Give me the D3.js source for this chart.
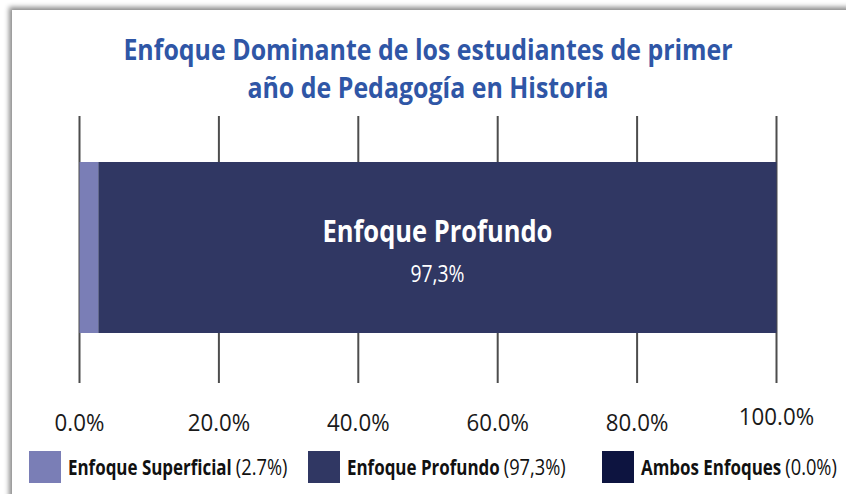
<!DOCTYPE html>
<html>
<head>
<meta charset="utf-8">
<script src="https://cdn.jsdelivr.net/npm/d3@7"></script>
<style>
  body { margin: 0; background: #fff; }
  svg { display: block; }
  text { font-family: "Open Sans", "Roboto", sans-serif; }
</style>
</head>
<body>
<div id="chart"></div>
<script>
var categories = ["Enfoque Superficial", "Enfoque Profundo", "Ambos Enfoques"];
var values = [2.7, 97.3, 0.0];
var valueLabels = ["(2.7%)", "(97,3%)", "(0.0%)"];
var colors = ["#7a7eb6", "#303763", "#0d1440"];
var tickValues = [0, 20, 40, 60, 80, 100];
var tickLabels = ["0.0%", "20.0%", "40.0%", "60.0%", "80.0%", "100.0%"];
var titleLines = ["Enfoque Dominante de los estudiantes de primer", "año de Pedagogía en Historia"];

var width = 846, height = 494;

// the reference uses a condensed face; squeeze glyphs horizontally
function squeeze(sel, k) {
  sel.each(function() {
    var t = d3.select(this);
    var px = +t.attr("x") || 0, py = +t.attr("y") || 0;
    this.__w = this.getComputedTextLength() * k;
    t.attr("x", 0).attr("y", 0)
     .attr("transform", "translate(" + px + "," + py + ") scale(" + k + ",1)");
  });
}

var svg = d3.select("#chart").append("svg")
    .attr("width", width)
    .attr("height", height);

// card with shadow on top/left
var defs = svg.append("defs");
var f = defs.append("filter").attr("id", "shadow")
    .attr("x", "-5%").attr("y", "-10%").attr("width", "110%").attr("height", "120%");
f.append("feDropShadow")
    .attr("dx", -3).attr("dy", -3)
    .attr("stdDeviation", 2.5)
    .attr("flood-color", "#000")
    .attr("flood-opacity", 0.45);

svg.append("rect")
    .attr("x", 12).attr("y", 10)
    .attr("width", 900).attr("height", 600)
    .attr("fill", "#fff")
    .attr("filter", "url(#shadow)");

// title
var title = svg.append("g")
  .selectAll("text")
  .data(titleLines)
  .enter().append("text")
    .attr("x", 428)
    .attr("y", function(d, i) { return 60 + i * 38; })
    .attr("text-anchor", "middle")
    .attr("fill", "#2f56a6")
    .style("font-weight", "bold")
    .style("font-size", "29px")
    .text(function(d) { return d; });
squeeze(title, 0.86);

var x = d3.scaleLinear()
    .domain([0, 100])
    .range([79.5, 776.5]);

// grid lines
svg.append("g")
  .selectAll("line")
  .data(tickValues)
  .enter().append("line")
    .attr("x1", function(d) { return x(d); })
    .attr("x2", function(d) { return x(d); })
    .attr("y1", 116)
    .attr("y2", 383)
    .attr("stroke", "#4d4d4d")
    .attr("stroke-width", 2);

// stacked bar
var stackData = [{}];
categories.forEach(function(c, i) { stackData[0][c] = values[i]; });
var series = d3.stack().keys(categories)(stackData);

svg.append("g")
  .selectAll("rect")
  .data(series)
  .enter().append("rect")
    .attr("x", function(d) { return x(d[0][0]); })
    .attr("width", function(d) { return x(d[0][1]) - x(d[0][0]); })
    .attr("y", 162)
    .attr("height", 171)
    .attr("fill", function(d, i) { return colors[i]; });

// label inside the dominant segment
var big = series[1];
var cx = (x(big[0][0]) + x(big[0][1])) / 2;
var bigName = svg.append("text")
    .attr("x", cx).attr("y", 242)
    .attr("text-anchor", "middle")
    .attr("fill", "#fff")
    .style("font-weight", "bold")
    .style("font-size", "30px")
    .text(categories[1]);
squeeze(bigName, 0.85);
var bigVal = svg.append("text")
    .attr("x", cx).attr("y", 282)
    .attr("text-anchor", "middle")
    .attr("fill", "#fff")
    .style("font-size", "23px")
    .text(valueLabels[1].replace(/[()]/g, ""));
squeeze(bigVal, 0.84);

// tick labels
var ticks = svg.append("g")
  .selectAll("text")
  .data(tickValues)
  .enter().append("text")
    .attr("x", function(d) { return x(d); })
    .attr("y", function(d) { return d === 100 ? 425 : 431; })
    .attr("text-anchor", "middle")
    .attr("fill", "#1a1a1a")
    .style("font-size", "23px")
    .text(function(d, i) { return tickLabels[i]; });
squeeze(ticks, 0.97);

// legend
var legendX = [29, 308, 602];
var leg = svg.append("g")
  .selectAll("g")
  .data(categories)
  .enter().append("g")
    .attr("transform", function(d, i) { return "translate(" + legendX[i] + ",451)"; });

leg.append("rect")
    .attr("width", 32).attr("height", 32)
    .attr("fill", function(d, i) { return colors[i]; });

var ln = leg.append("text")
    .attr("x", 39).attr("y", 24)
    .attr("fill", "#111")
    .style("font-weight", "bold")
    .style("font-size", "22px")
    .text(function(d) { return d; });
squeeze(ln, 0.77);

var lv = leg.append("text")
    .attr("y", 24)
    .attr("fill", "#111")
    .style("font-size", "21px")
    .text(function(d, i) { return valueLabels[i]; });
lv.attr("x", function(d, i) { return 39 + ln.nodes()[i].__w + 4; });
squeeze(lv, 0.87);
</script>
</body>
</html>
